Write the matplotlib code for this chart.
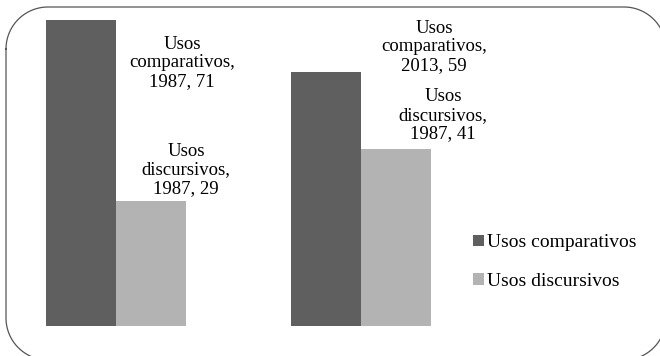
import matplotlib.pyplot as plt
import numpy as np

plt.rcParams['font.family'] = ['Liberation Serif', 'DejaVu Serif']

groups = [0, 1]
comparativos = [71, 59]
discursivos = [29, 41]
labels_comp = ['Usos\ncomparativos,\n1987, 71', 'Usos\ncomparativos,\n2013, 59']
labels_disc = ['Usos\ndiscursivos,\n1987, 29', 'Usos\ndiscursivos,\n1987, 41']
series_names = ['Usos comparativos', 'Usos discursivos']

dark = '#5f5f5f'
light = '#b3b3b3'
W, H = 660, 356

fig = plt.figure(figsize=(W / 100, H / 100), dpi=100)

# rounded frame around the whole chart (runs a bit past the right/bottom edge), pixel coords
bg = fig.add_axes([0, 0, 1, 1])
bg.set_xlim(0, W)
bg.set_ylim(H, 0)
bg.axis('off')
x0, y0, x1, y1, r = 6, 7, 666, 360, 42
t = np.linspace(0, np.pi / 2, 30)
px = np.concatenate([x0 + r - r * np.cos(t), x1 - r + r * np.sin(t),
                     x1 - r + r * np.cos(t), x0 + r - r * np.sin(t)])
py = np.concatenate([y0 + r - r * np.sin(t), y0 + r - r * np.cos(t),
                     y1 - r + r * np.sin(t), y1 - r + r * np.cos(t)])
bg.plot(np.append(px, px[0]), np.append(py, py[0]), color='#555555', lw=0.9, clip_on=False)

# plot area: x 46..431 px, y 20..326 px
ax = fig.add_axes([46 / W, (H - 326) / H, 385 / W, 306 / H])
w = 70 / 245
x = np.array(groups)
b1 = ax.bar(x - w / 2, comparativos, w, color=dark, label=series_names[0])
b2 = ax.bar(x + w / 2, discursivos, w, color=light, label=series_names[1])
ax.set_xlim(-w, 1 + w)
ax.set_ylim(0, 71)
ax.axis('off')

# label offsets in pixels relative to bar top centre
offs_comp = [(101, -43), (108, 25)]
offs_disc = [(35, 31), (47, 34)]
for i in range(2):
    ax.annotate(labels_comp[i], (x[i] - w / 2, comparativos[i]),
                xytext=(offs_comp[i][0] * 0.72, offs_comp[i][1] * 0.72), textcoords='offset points',
                ha='center', va='center', fontsize=13.5, linespacing=1.12, annotation_clip=False)
    ax.annotate(labels_disc[i], (x[i] + w / 2, discursivos[i]),
                xytext=(offs_disc[i][0] * 0.72, offs_disc[i][1] * 0.72), textcoords='offset points',
                ha='center', va='center', fontsize=13.5, linespacing=1.12, annotation_clip=False)

fig.legend(handles=[b1, b2], loc='center left', bbox_to_anchor=(473 / W, 1 - 262 / H),
           frameon=False, fontsize=14, handlelength=0.55, handleheight=0.55,
           handletextpad=0.15, labelspacing=1.1, borderaxespad=0, borderpad=0)

fig.savefig('out.png', dpi=100)
